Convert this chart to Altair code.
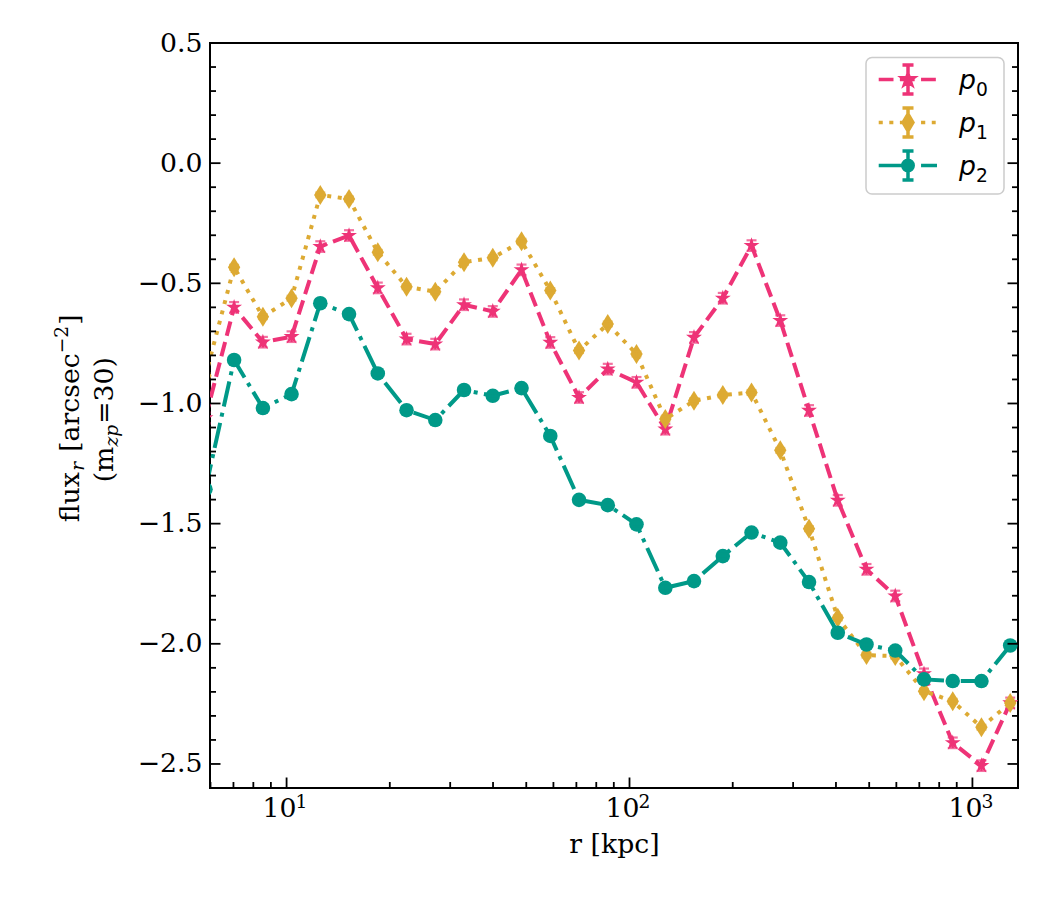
import altair as alt
import pandas as pd

# Radial bins (kpc) and surface flux profiles for three populations
r_kpc = [5.80, 7.03, 8.53, 10.34, 12.54, 15.21, 18.45, 22.38, 27.14, 32.92,
         39.93, 48.43, 58.75, 71.26, 86.42, 104.8, 127.2, 154.2, 187.1, 226.9,
         275.2, 333.8, 404.9, 491.0, 595.6, 722.4, 876.2, 1062.4, 1288.8]

flux_p0 = [-1.06, -0.60, -0.745, -0.722, -0.347, -0.301, -0.519, -0.732, -0.753, -0.589,
           -0.617, -0.444, -0.746, -0.975, -0.857, -0.912, -1.107, -0.725, -0.562, -0.343,
           -0.655, -1.029, -1.403, -1.690, -1.801, -2.125, -2.412, -2.507, -2.246]

flux_p1 = [-0.885, -0.433, -0.639, -0.562, -0.132, -0.149, -0.371, -0.514, -0.535, -0.412,
           -0.394, -0.325, -0.530, -0.780, -0.669, -0.794, -1.065, -0.989, -0.965, -0.954,
           -1.195, -1.521, -1.892, -2.047, -2.051, -2.197, -2.239, -2.347, -2.246]

flux_p2 = [-1.357, -0.819, -1.019, -0.961, -0.583, -0.628, -0.875, -1.028, -1.069, -0.944,
           -0.968, -0.936, -1.135, -1.401, -1.423, -1.503, -1.767, -1.739, -1.635, -1.537,
           -1.579, -1.743, -1.954, -2.003, -2.028, -2.148, -2.155, -2.155, -2.007]

# symmetric 1-sigma uncertainty of each profile
flux_err = [0.022, 0.010, 0.010]

series_names = ["p₀", "p₁", "p₂"]
series_index = ["0", "1", "2"]
profiles = [flux_p0, flux_p1, flux_p2]

y_major = [-2.5, -2.0, -1.5, -1.0, -0.5, 0.0, 0.5]
y_minor = [-2.4, -2.3, -2.2, -2.1, -1.9, -1.8, -1.7, -1.6, -1.4, -1.3, -1.2, -1.1,
           -0.9, -0.8, -0.7, -0.6, -0.4, -0.3, -0.2, -0.1, 0.1, 0.2, 0.3, 0.4]
x_major = [10, 100, 1000]
x_major_exp = ["1", "2", "3"]
x_minor = [6, 7, 8, 9, 20, 30, 40, 50, 60, 70, 80, 90,
           200, 300, 400, 500, 600, 700, 800, 900]

# ---- styling ----
colors = ["#EE3377", "#DDAA33", "#009988"]
dashes = [[14.8, 6.4], [4, 6.6], [25.6, 6.4, 4, 6.4]]

STAR = [(0, -1), (0.2245, -0.309), (0.951, -0.309), (0.363, 0.118), (0.588, 0.809),
        (0, 0.382), (-0.588, 0.809), (-0.363, 0.118), (-0.951, -0.309), (-0.2245, -0.309)]
DIAMOND = [(0, -1), (0.62, 0), (0, 1), (-0.62, 0)]


def poly(points, kx, ky=None):
    ky = kx if ky is None else ky
    return "M" + "L".join(f"{x * kx:.3f},{y * ky:.3f}" for x, y in points) + "Z"


def circ(r):
    return f"M{r},0A{r},{r},0,1,1,{-r},0A{r},{r},0,1,1,{r},0Z"


marker_shapes = [poly(STAR, 1), poly(DIAMOND, 1), "circle"]
marker_sizes = [280, 400, 213]

errbar = "M0,-1V1M-0.38,-1H0.38M-0.38,1H0.38"
legend_shapes = [
    "M-2.02,0H-1M-0.56,0H0.46M0.9,0H1.92" + poly(STAR, 0.40) + errbar,
    "M-2.02,0H-1.74M-1.29,0H-1.01M-0.56,0H-0.28M0.9,0H1.19M1.64,0H1.91"
    + poly(DIAMOND, 0.55, 0.58) + errbar,
    "M-2.02,0H-0.26M0.9,0H2" + circ(0.36) + errbar,
]

W, H = 808, 745
SERIF = "DejaVu Serif"
SANS = "DejaVu Sans"
FS = 26.7
FS_SCRIPT = FS * 0.7

rows = []
for name, vals, err in zip(series_names, profiles, flux_err):
    for r, v in zip(r_kpc, vals):
        rows.append({"r": r, "flux": v, "lo": v - err, "hi": v + err, "series": name})
df = pd.DataFrame(rows)

xscale = alt.Scale(type="log", domain=[5.98, 1358], nice=False)
yscale = alt.Scale(domain=[-2.6, 0.5], nice=False, zero=False)

# x tick labels are typeset separately as "10" + superscript
xaxis = alt.Axis(values=x_major, title="r [kpc]", ticks=False, tickSize=0, domain=False,
                 grid=False, labels=False, titlePadding=43)
yaxis = alt.Axis(values=y_major, format=".1f", title=None, ticks=False, tickSize=0,
                 domain=False, grid=False, labelPadding=8, labelFlush=False,
                 labelOverlap=False)


def X(field="r"):
    return alt.X(f"{field}:Q", scale=xscale, axis=xaxis)


def Y(field="flux"):
    return alt.Y(f"{field}:Q", scale=yscale, axis=yaxis)


layers = []
for name, color, dash, shape, size in zip(series_names, colors, dashes,
                                          marker_shapes, marker_sizes):
    sdf = df[df.series == name]
    base = alt.Chart(sdf)
    layers.append(base.mark_line(clip=True, color=color, strokeWidth=4,
                                 strokeDash=dash).encode(x=X(), y=Y()))
    layers.append(base.mark_point(clip=True, filled=True, color=color, shape=shape,
                                  size=size, opacity=1, strokeWidth=1)
                  .encode(x=X(), y=Y()))
    layers.append(base.mark_rule(clip=True, color=color, strokeWidth=2.2)
                  .encode(x=X(), y=Y("lo"), y2="hi:Q"))
    for end in ("lo", "hi"):
        layers.append(base.mark_tick(clip=True, color=color, orient="horizontal",
                                     size=10, thickness=2.2)
                      .encode(x=X(), y=Y(end)))

# inward ticks on left, right and bottom spines
ymaj = pd.DataFrame({"flux": y_major})
ymin = pd.DataFrame({"flux": y_minor})
xmaj = pd.DataFrame({"r": x_major, "exp": x_major_exp})
xmin = pd.DataFrame({"r": x_minor})
for tdf, ln in ((ymaj, 10.5), (ymin, 6)):
    layers.append(alt.Chart(tdf).mark_rule(color="black", strokeWidth=1.8)
                  .encode(y=Y(), x=alt.value(0), x2=alt.value(ln)))
    layers.append(alt.Chart(tdf).mark_rule(color="black", strokeWidth=1.8)
                  .encode(y=Y(), x=alt.value(W), x2=alt.value(W - ln)))
for tdf, ln in ((xmaj, 10.5), (xmin, 6)):
    layers.append(alt.Chart(tdf).mark_rule(color="black", strokeWidth=1.8)
                  .encode(x=X(), y=alt.value(H), y2=alt.value(H - ln)))

# x tick labels: base "10" with a raised exponent
layers.append(alt.Chart(xmaj).mark_text(align="right", baseline="alphabetic", dx=10,
                                        font=SERIF, fontSize=FS, color="black",
                                        text="10")
              .encode(x=X(), y=alt.value(H + 29)))
layers.append(alt.Chart(xmaj).mark_text(align="left", baseline="alphabetic", dx=9,
                                        font=SERIF, fontSize=FS_SCRIPT, color="black")
              .encode(x=X(), y=alt.value(H + 20), text="exp:N"))

# two-line y-axis title with sub- and superscripts
title_pieces = [
    ("flux", -131, 479.3, FS, "normal"),
    ("r", -126, 427.7, FS_SCRIPT, "italic"),
    ("[arcsec", -131, 408.8, FS, "normal"),
    ("−2", -142, 310.3, FS_SCRIPT, "normal"),
    ("]", -131, 281.7, FS, "normal"),
    ("(m", -97, 439.3, FS, "normal"),
    ("zp", -92, 403.6, FS_SCRIPT, "italic"),
    ("=30)", -97, 380.8, FS, "normal"),
]
for txt, tx, ty, fs, style in title_pieces:
    layers.append(alt.Chart(pd.DataFrame({"t": [txt]}))
                  .mark_text(angle=270, align="left", baseline="alphabetic", font=SERIF,
                             fontSize=fs, fontStyle=style, color="black")
                  .encode(text="t:N", x=alt.value(tx), y=alt.value(ty)))

# legend frame
layers.append(alt.Chart(pd.DataFrame({"t": [0]}))
              .mark_rect(fill="white", stroke="#cccccc", strokeWidth=1.5, cornerRadius=6)
              .encode(x=alt.value(656), x2=alt.value(794),
                      y=alt.value(14.5), y2=alt.value(151)))

# legend: symbols come from the shape scale; the labels p_i are typeset beside them
legend = alt.Legend(title=None, orient="none", legendX=656, legendY=15, padding=5,
                    symbolSize=841, symbolStrokeWidth=3.5, symbolOpacity=1,
                    symbolOffset=20.5, labelOffset=34.5, rowPadding=0,
                    labelFont=SANS, labelFontSize=27, labelColor="black",
                    labelBaseline="middle", labelExpr="''")
legend_layer = alt.Chart(df).mark_point(filled=True, opacity=0, clip=True).encode(
    x=X(), y=Y(),
    fill=alt.Fill("series:N", scale=alt.Scale(domain=series_names, range=colors),
                  legend=legend),
    stroke=alt.Stroke("series:N", scale=alt.Scale(domain=series_names, range=colors),
                      legend=legend),
    shape=alt.Shape("series:N", scale=alt.Scale(domain=series_names, range=legend_shapes),
                    legend=legend),
)
layers.append(legend_layer)

for i, idx in enumerate(series_index):
    row_y = 37.5 + 43 * i
    layers.append(alt.Chart(pd.DataFrame({"t": ["p"]}))
                  .mark_text(align="left", baseline="alphabetic", font=SANS, fontSize=FS,
                             fontStyle="italic", color="black")
                  .encode(text="t:N", x=alt.value(749), y=alt.value(row_y + 8)))
    layers.append(alt.Chart(pd.DataFrame({"t": [idx]}))
                  .mark_text(align="left", baseline="alphabetic", font=SANS,
                             fontSize=FS_SCRIPT, color="black")
                  .encode(text="t:N", x=alt.value(766), y=alt.value(row_y + 15)))

chart = alt.layer(*layers).properties(
    width=W, height=H,
    autosize=alt.AutoSizeParams(type="none"),
    padding={"left": 210, "top": 43, "right": 32, "bottom": 112},
    background="white",
).configure_view(stroke="black", strokeWidth=2).configure_axis(
    labelFont=SERIF, labelFontSize=FS, labelColor="black",
    titleFont=SERIF, titleFontSize=FS, titleFontWeight="normal", titleColor="black",
)

chart.save("out.html", embed_options={"renderer": "svg", "actions": False})
